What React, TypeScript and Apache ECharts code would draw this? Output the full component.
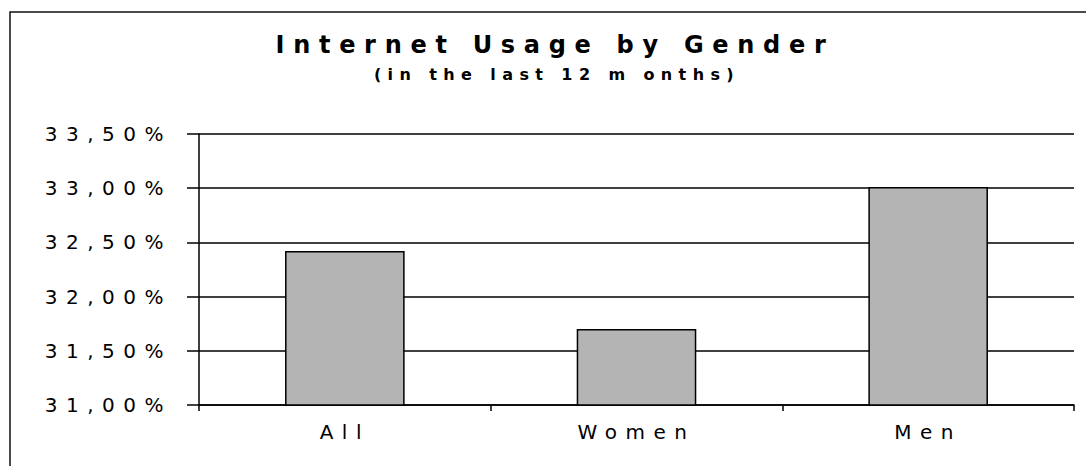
import React, { useEffect, useRef } from "react";
import * as echarts from "echarts";

const categories = ["All", "Women", "Men"];
const usage = [32.42, 31.7, 33.01];
const yMin = 31;
const yMax = 33.5;
const yStep = 0.5;

const titleText = "Internet Usage by Gender";
const subtitleText = "(in the last 12 m onths)";

const fmtPct = (v: number) => v.toFixed(2).replace(".", ",") + "%";

export default function App() {
  const ref = useRef<HTMLDivElement>(null);

  useEffect(() => {
    if (!ref.current) return;
    const chart = echarts.init(ref.current, undefined, { renderer: "svg" });
    const font = "DejaVu Sans";
    chart.setOption({
      animation: false,
      backgroundColor: "#ffffff",
      graphic: [
        {
          type: "rect",
          shape: { x: 10, y: 12, width: 1200, height: 600 },
          style: { fill: "none", stroke: "#111", lineWidth: 1.5 },
          silent: true,
        },
        {
          type: "text",
          x: 555,
          y: 33,
          style: {
            text: titleText,
            fontFamily: font,
            fontSize: 24,
            fontWeight: "bold",
            fill: "#000",
            align: "center",
            verticalAlign: "top",
          },
        },
        {
          type: "text",
          x: 557,
          y: 66,
          style: {
            text: subtitleText,
            fontFamily: font,
            fontSize: 16,
            fontWeight: "bold",
            fill: "#000",
            align: "center",
            verticalAlign: "top",
          },
        },
      ],
      grid: { left: 199, right: 12, top: 134, bottom: 61 },
      xAxis: {
        type: "category",
        data: categories,
        axisLine: { lineStyle: { color: "#000", width: 1.5 } },
        axisTick: { show: true, length: 6, lineStyle: { color: "#000", width: 1.5 } },
        axisLabel: { fontFamily: font, fontSize: 20, color: "#000", margin: 17 },
      },
      yAxis: {
        type: "value",
        min: yMin,
        max: yMax,
        interval: yStep,
        axisLine: { show: true, lineStyle: { color: "#000", width: 1.5 } },
        axisTick: { show: true, length: 12, lineStyle: { color: "#000", width: 1.5 } },
        axisLabel: {
          fontFamily: font,
          fontSize: 20,
          color: "#000",
          margin: 27,
          formatter: (v: number) => fmtPct(v),
        },
        splitLine: { show: true, lineStyle: { color: "#000", width: 1.5 } },
      },
      series: [
        {
          type: "bar",
          data: usage,
          barWidth: "41%",
          itemStyle: { color: "#b4b4b4", borderColor: "#000", borderWidth: 1.5 },
        },
      ],
    });
    return () => chart.dispose();
  }, []);

  return (
    <>
      <style>{`
        .usage-chart text { letter-spacing: 8.5px; }
        .usage-chart text[style*="24px"] { letter-spacing: 8.7px; }
        .usage-chart text[style*="16px"] { letter-spacing: 6.4px; }
      `}</style>
      <div
        ref={ref}
        className="usage-chart"
        style={{ position: "absolute", left: 0, top: 0, width: 1086, height: 466 }}
      />
    </>
  );
}
